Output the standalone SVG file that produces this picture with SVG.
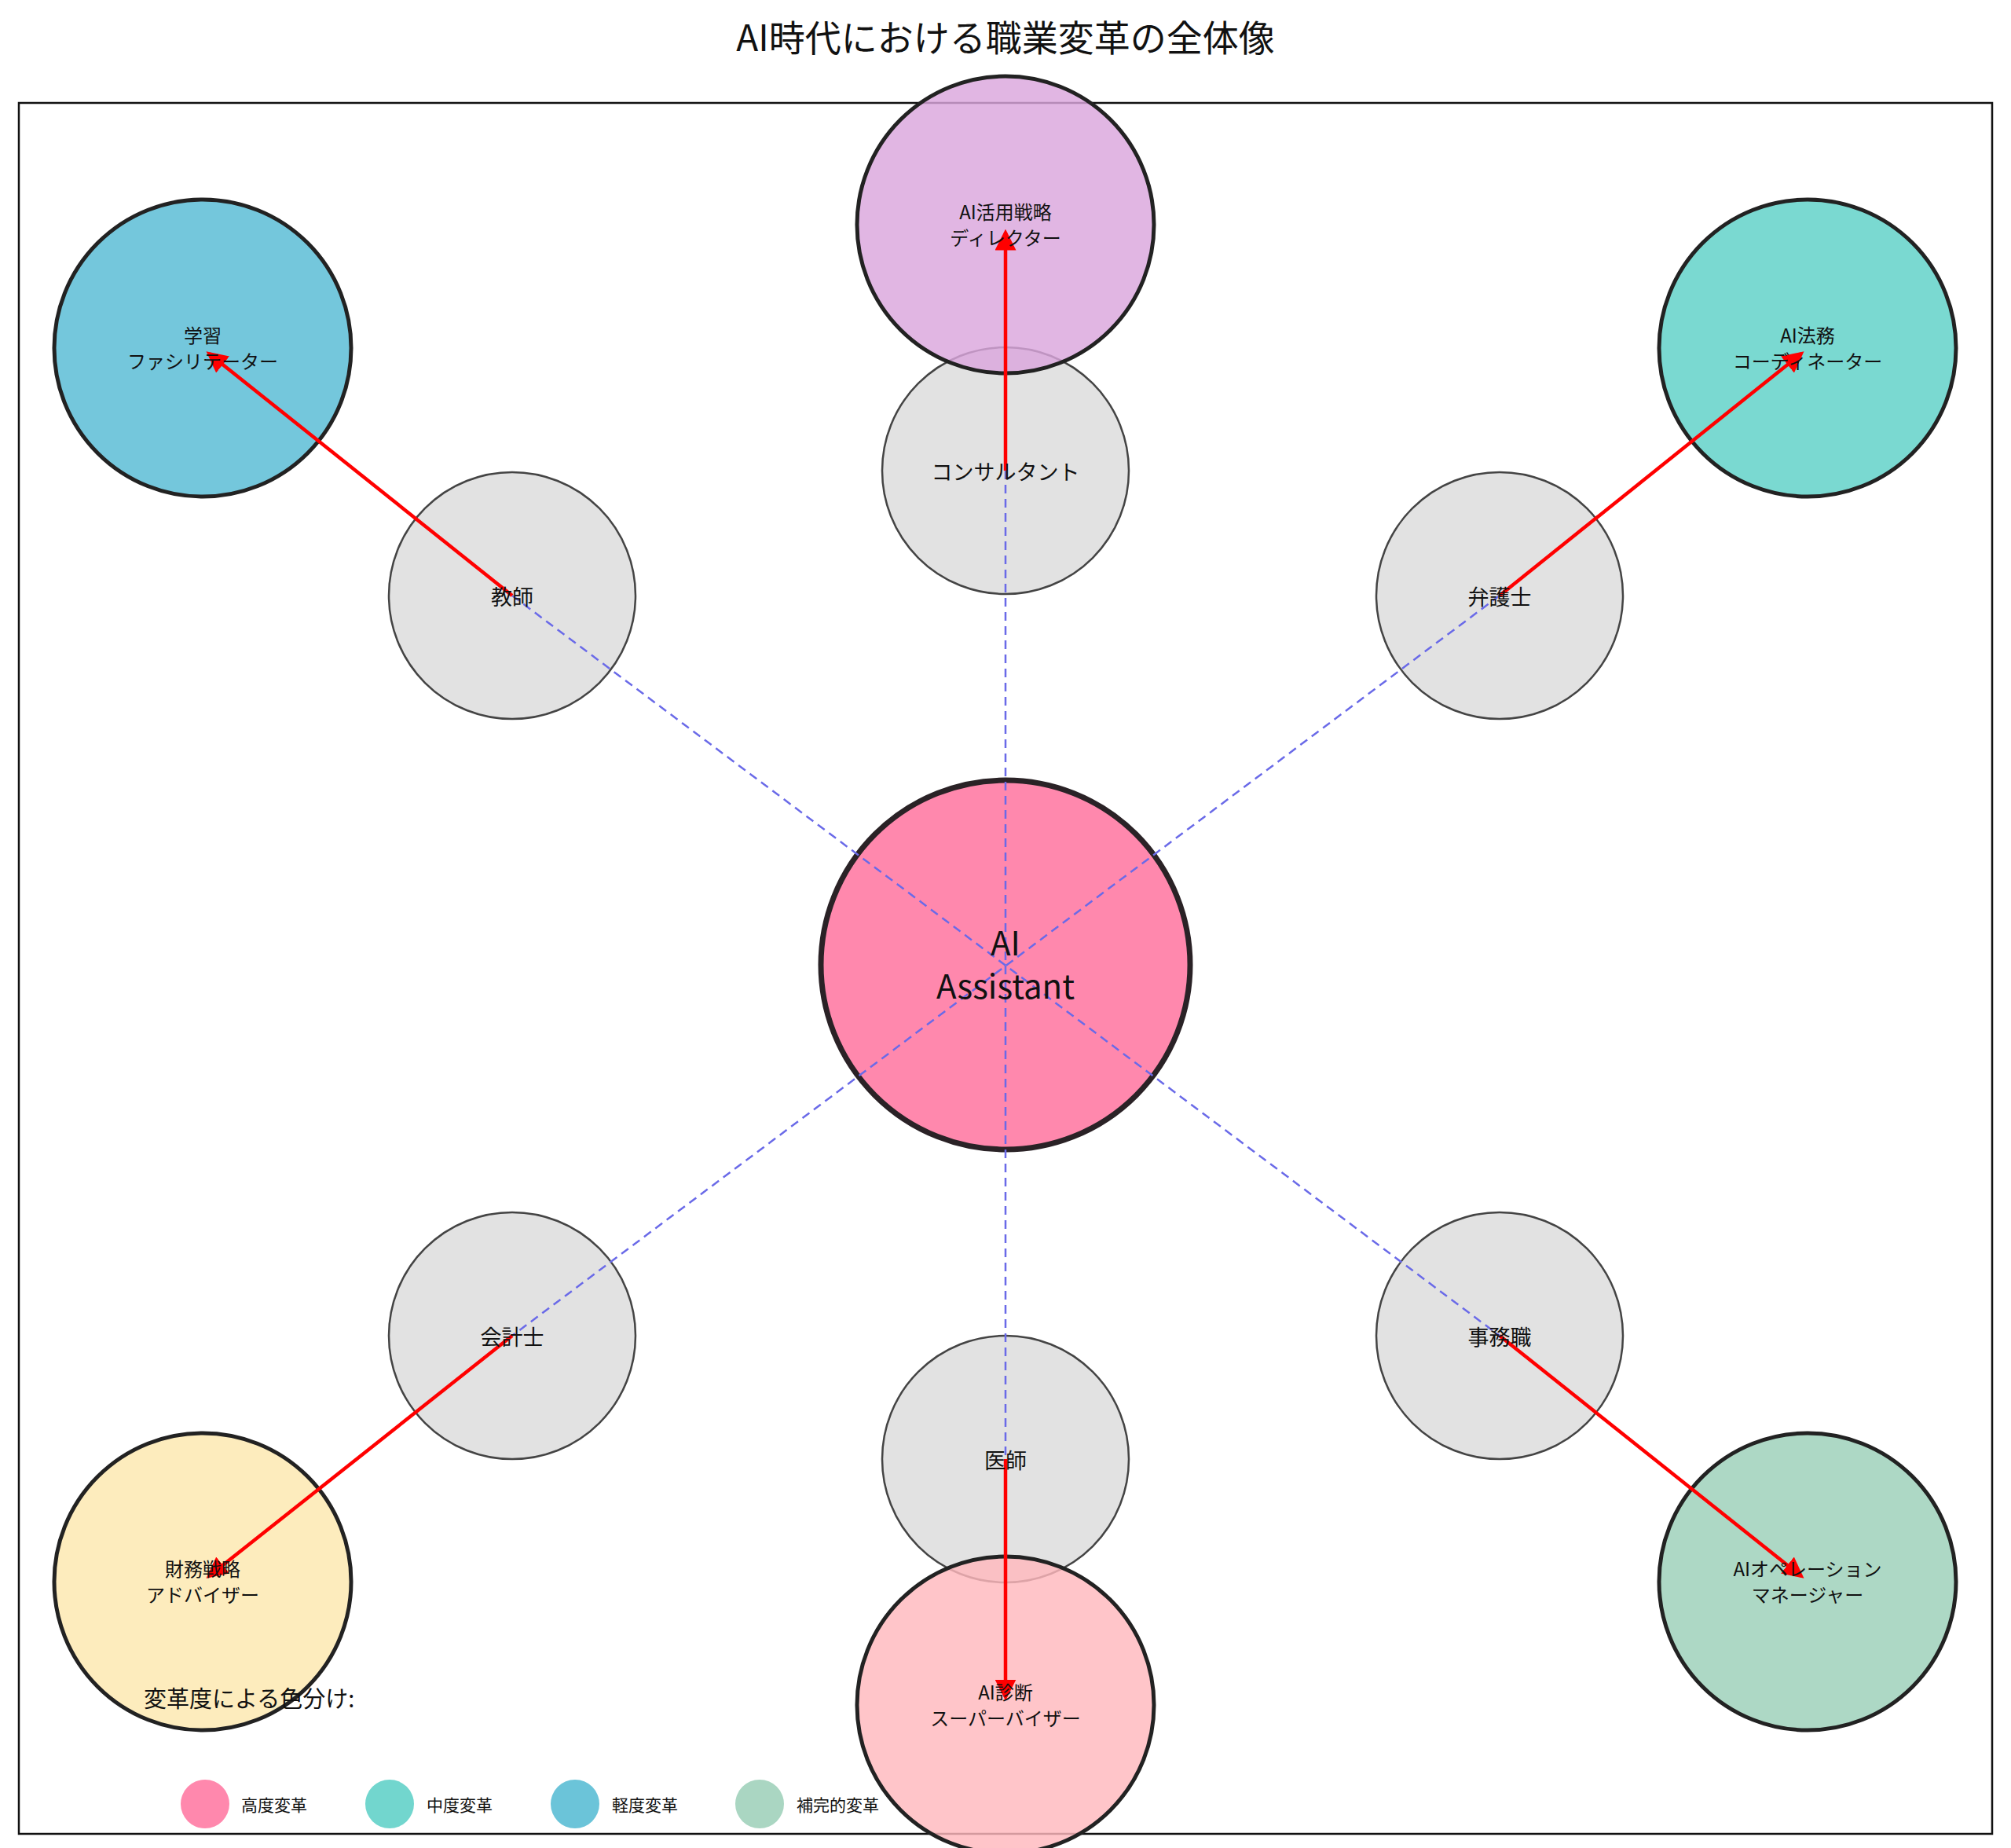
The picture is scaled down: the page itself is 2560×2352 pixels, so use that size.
<svg xmlns="http://www.w3.org/2000/svg" width="2560" height="2352" viewBox="0 0 2560 2352">
<style>
text{font-family:"Noto Sans CJK JP","Liberation Sans",sans-serif;fill:#111;text-anchor:middle;dominant-baseline:central}
.g{fill:#e0e0e0;stroke:#444;stroke-width:2.5;fill-opacity:0.95}
.o{stroke:#222;stroke-width:5;fill-opacity:0.82}
.gl{font-size:27px}
.ol{font-size:24px}
.d{stroke:#6a6ae8;stroke-width:2.5;stroke-dasharray:11,7;fill:none}
.a{stroke:#f00;stroke-width:4.5;fill:none;marker-end:url(#ah)}
.lg{font-size:21px;text-anchor:start}
</style>
<defs><marker id="ah" markerWidth="6" markerHeight="6" refX="5" refY="3" orient="auto"><path d="M0,0L6,3L0,6z" fill="#f00"/></marker></defs>
<rect width="2560" height="2352" fill="#fff"/>
<text x="1280" y="45" style="font-size:46px">AI時代における職業変革の全体像</text>
<rect x="24" y="131" width="2512" height="2203" fill="none" stroke="#111" stroke-width="2.5"/>
<g id="n-consult"><circle class="g" cx="1280" cy="599" r="157"/></g>
<g id="n-teacher"><circle class="g" cx="652" cy="758" r="157"/></g>
<g id="n-lawyer"><circle class="g" cx="1909" cy="758" r="157"/></g>
<g id="n-account"><circle class="g" cx="652" cy="1700" r="157"/></g>
<g id="n-clerk"><circle class="g" cx="1909" cy="1700" r="157"/></g>
<g id="n-doctor"><circle class="g" cx="1280" cy="1857" r="157"/></g>
<g id="o-director"><circle class="o" cx="1280" cy="286" r="189" fill="#dba6dd"/></g>
<g id="o-learn"><circle class="o" cx="258" cy="443" r="189" fill="#56bbd4"/></g>
<g id="o-legal"><circle class="o" cx="2301" cy="443" r="189" fill="#5dd1c7"/></g>
<g id="o-finance"><circle class="o" cx="258" cy="2013" r="189" fill="#fde8ae"/></g>
<g id="o-diag"><circle class="o" cx="1280" cy="2170" r="189" fill="#ffb8bd"/></g>
<g id="o-ops"><circle class="o" cx="2301" cy="2013" r="189" fill="#9bd0b8"/></g>
<g id="center"><circle cx="1280" cy="1228" r="235" fill="#ff88ad" stroke="#2a2226" stroke-width="7"/></g>
<g id="connectors">
<line class="d" x1="1280" y1="599" x2="1280" y2="1857"/>
<line class="d" x1="652" y1="758" x2="1909" y2="1700"/>
<line class="d" x1="1909" y1="758" x2="652" y2="1700"/>
<line class="a" x1="1280" y1="599" x2="1280" y2="296"/>
<line class="a" x1="652" y1="758" x2="266" y2="450"/>
<line class="a" x1="1909" y1="758" x2="2293" y2="450"/>
<line class="a" x1="652" y1="1700" x2="266" y2="2006"/>
<line class="a" x1="1909" y1="1700" x2="2293" y2="2006"/>
<line class="a" x1="1280" y1="1857" x2="1280" y2="2160"/>
</g>
<g id="labels">
<text x="1280" y="1197" style="font-size:42px">AI</text>
<text x="1280" y="1252" style="font-size:42px">Assistant</text>
<text class="gl" x="1280" y="599">コンサルタント</text>
<text class="gl" x="652" y="758">教師</text>
<text class="gl" x="1909" y="758">弁護士</text>
<text class="gl" x="652" y="1700">会計士</text>
<text class="gl" x="1909" y="1700">事務職</text>
<text class="gl" x="1280" y="1857">医師</text>
<text class="ol" x="1280" y="268">AI活用戦略</text><text class="ol" x="1280" y="301">ディレクター</text>
<text class="ol" x="258" y="425">学習</text><text class="ol" x="258" y="458">ファシリテーター</text>
<text class="ol" x="2301" y="425">AI法務</text><text class="ol" x="2301" y="458">コーディネーター</text>
<text class="ol" x="258" y="1995">財務戦略</text><text class="ol" x="258" y="2028">アドバイザー</text>
<text class="ol" x="1280" y="2152">AI診断</text><text class="ol" x="1280" y="2185">スーパーバイザー</text>
<text class="ol" x="2301" y="1995">AIオペレーション</text><text class="ol" x="2301" y="2028">マネージャー</text>
</g>
<g id="legend">
<text x="183" y="2160" style="font-size:29px;text-anchor:start">変革度による色分け:</text>
<circle cx="261" cy="2296" r="31" fill="#ff88ad"/><text class="lg" x="307" y="2296">高度変革</text>
<circle cx="496" cy="2296" r="31" fill="#72d6ce"/><text class="lg" x="543" y="2296">中度変革</text>
<circle cx="732" cy="2296" r="31" fill="#6bc4d9"/><text class="lg" x="779" y="2296">軽度変革</text>
<circle cx="967" cy="2296" r="31" fill="#aad6c2"/><text class="lg" x="1014" y="2296">補完的変革</text>
</g>
</svg>
